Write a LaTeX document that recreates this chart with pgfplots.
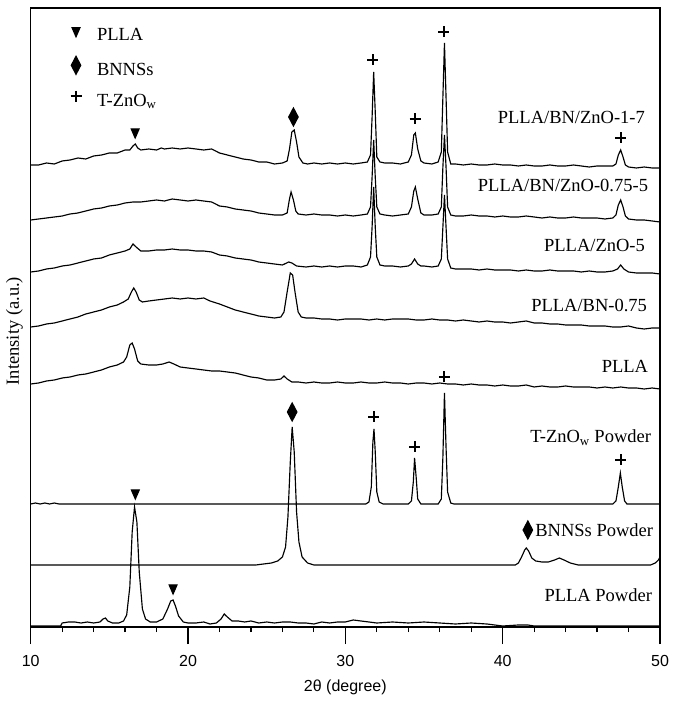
\documentclass[border=0pt]{standalone}
\usepackage{pgfplots}
\pgfplotsset{compat=1.18}
\usepackage{fontspec}
\setmainfont{Liberation Serif}
\newfontfamily\arialfont{Liberation Sans}
\newcommand\lblfont{\fontsize{18.5}{20}\selectfont}
\begin{document}
\begin{tikzpicture}
\begin{axis}[
  scale only axis, width=629.3pt, height=619pt,
  xmin=10, xmax=50, ymin=0, ymax=619,
  xtick={10,20,30,40,50}, minor x tick num=4,
  ytick=\empty, xtick pos=left, tick align=outside,
  major tick length=17pt, minor tick length=5pt,
  axis line style={line width=1.2pt},
  every tick/.style={black, line width=1.2pt},
  /pgf/number format/assume math mode=true,
  xticklabel style={font=\arialfont\fontsize{16}{16}\selectfont, yshift=-8pt},
  xlabel={2θ (degree)},
  every axis x label/.style={at={(axis description cs:0.5,0)}, yshift=-60pt, anchor=center, font=\arialfont\fontsize{16}{16}\selectfont},
  ylabel={Intensity (a.u.)},
  every axis y label/.style={at={(axis description cs:0,0.478)}, xshift=-16.2pt, anchor=center, rotate=90, font=\lblfont},
  legend style={draw=none, fill=none, at={(axis description cs:0.0585,0.968)}, anchor=north west, font=\lblfont, row sep=11.5pt, inner sep=0pt, outer sep=0pt,
    nodes={inner sep=0pt, text height=13pt, text depth=4pt}},
  legend cell align=left,
  legend image code/.code={\path[draw=none] (0pt,0pt) -- (29.5pt,0pt); \draw[#1] plot coordinates {(8.5pt,5.5pt)};},
  every axis plot/.append style={line width=1.15pt, black},
]
% legend / peak markers
\addplot[only marks, mark=triangle*, mark size=6pt, mark options={rotate=180, xscale=0.75, fill=black}]
  coordinates {(16.64,495) (16.65,134) (19.05,39)};
\addlegendentry{PLLA}
\addplot[only marks, mark=diamond*, mark size=9pt, mark options={xscale=0.7, fill=black}]
  coordinates {(26.7,510) (26.62,215) (41.6,97)};
\addlegendentry{BNNSs}
\addplot[only marks, mark=+, mark size=5.5pt, mark options={line width=2pt}]
  coordinates {(31.75,567) (34.43,508) (36.25,595) (47.52,489) (31.82,210) (34.4,180) (36.3,250) (47.5,167)};
\addlegendentry{T-ZnO\textsubscript{w}}
% Trace 1: PLLA/BN/ZnO-1-7
\addplot[forget plot] coordinates {
(10.0,462) (10.5,462) (11.0,464) (11.5,463) (12.0,466) (12.5,467) (13.0,469) (13.5,468) (14.0,471) (14.5,472) (15.0,474) (15.5,474) (16.0,477) (16.3,477) (16.5,481) (16.65,483) (16.8,479) (17.0,477) (17.5,478) (18.0,477) (18.3,479) (18.5,478) (19.0,479) (19.5,478) (20.0,479) (20.5,478) (21.0,477) (21.5,478) (22.0,474) (22.5,472) (23.0,470) (23.5,468) (24.0,467) (24.5,465) (25.0,465) (25.5,463) (26.0,464) (26.3,466) (26.45,478) (26.6,495) (26.75,497) (26.9,485) (27.05,470) (27.3,464) (27.6,463) (28.0,464) (28.5,463) (29.0,464) (29.5,463) (30.0,464) (30.5,463) (31.0,464) (31.4,465) (31.6,472) (31.7,510) (31.8,555) (31.9,515) (32.0,470) (32.2,465) (32.5,464) (33.0,464) (33.5,463) (34.0,465) (34.2,472) (34.35,492) (34.45,494) (34.6,478) (34.8,466) (35.0,464) (35.5,463) (35.9,465) (36.1,475) (36.2,530) (36.3,584) (36.4,530) (36.5,475) (36.7,463) (37.0,463) (37.5,462) (38.0,463) (38.5,462) (39.0,462) (39.5,463) (40.0,462) (40.5,462) (41.0,461) (41.5,462) (42.0,461) (42.5,461) (43.0,462) (43.5,461) (44.0,461) (44.5,462) (45.0,461) (45.5,460) (46.0,461) (46.5,461) (47.0,461) (47.2,463) (47.35,472) (47.5,477) (47.65,470) (47.8,462) (48.0,460) (48.5,459) (49.0,460) (49.5,459) (50.0,459)};
% Trace 2: PLLA/BN/ZnO-0.75-5
\addplot[forget plot] coordinates {
(10.0,407) (10.5,408) (11.0,409) (11.5,410) (12.0,411) (12.5,413) (13.0,414) (13.5,416) (14.0,418) (14.5,419) (15.0,421) (15.5,422) (16.0,424) (16.5,425) (17.0,425) (17.5,426) (18.0,427) (18.5,426) (19.0,428) (19.5,427) (20.0,426) (20.5,427) (21.0,426) (21.5,425) (22.0,421) (22.5,420) (23.0,418) (23.5,417) (24.0,416) (24.5,414) (25.0,413) (25.5,412) (26.0,412) (26.3,414) (26.45,428) (26.55,435) (26.7,427) (26.85,416) (27.0,413) (27.5,412) (28.0,413) (28.5,412) (29.0,412) (29.5,411) (30.0,412) (30.5,411) (31.0,412) (31.4,413) (31.6,420) (31.7,450) (31.8,487) (31.9,450) (32.0,420) (32.2,413) (32.5,412) (33.0,411) (33.5,412) (34.0,413) (34.2,420) (34.35,436) (34.45,440) (34.6,428) (34.8,414) (35.0,412) (35.5,412) (35.9,413) (36.1,420) (36.2,460) (36.3,492) (36.4,460) (36.5,420) (36.7,412) (37.0,411) (37.5,411) (38.0,412) (38.5,411) (39.0,411) (39.5,410) (40.0,411) (40.5,410) (41.0,410) (41.5,411) (42.0,410) (42.5,409) (43.0,410) (43.5,409) (44.0,409) (44.5,410) (45.0,409) (45.5,409) (46.0,409) (46.5,408) (47.0,409) (47.2,412) (47.35,422) (47.5,427) (47.65,420) (47.8,411) (48.0,408) (48.5,407) (49.0,407) (49.5,406) (50.0,405)};
% Trace 3: PLLA/ZnO-5
\addplot[forget plot] coordinates {
(10.0,355) (10.5,356) (11.0,358) (11.5,359) (12.0,361) (12.5,362) (13.0,364) (13.5,366) (14.0,368) (14.5,369) (15.0,372) (15.5,374) (16.0,376) (16.3,378) (16.5,383) (16.7,380) (17.0,376) (17.5,376) (18.0,377) (18.5,377) (19.0,378) (19.5,377) (20.0,377) (20.5,376) (21.0,376) (21.5,375) (22.0,372) (22.5,371) (23.0,369) (23.5,368) (24.0,367) (24.5,365) (25.0,364) (25.5,363) (26.0,362) (26.4,365) (26.6,364) (26.9,361) (27.5,360) (28.0,361) (28.5,360) (29.0,361) (29.5,360) (30.0,361) (30.5,361) (31.0,360) (31.4,362) (31.6,370) (31.7,400) (31.8,440) (31.9,400) (32.0,370) (32.2,362) (32.5,361) (33.0,361) (33.5,360) (34.0,361) (34.2,363) (34.4,368) (34.6,363) (34.8,361) (35.0,361) (35.5,360) (35.9,361) (36.1,368) (36.2,400) (36.3,432) (36.4,400) (36.5,368) (36.7,359) (37.0,358) (37.5,358) (38.0,358) (38.5,357) (39.0,358) (39.5,357) (40.0,357) (40.5,357) (41.0,356) (41.5,357) (42.0,356) (42.5,356) (43.0,357) (43.5,356) (44.0,356) (44.5,356) (45.0,355) (45.5,356) (46.0,355) (46.5,355) (47.0,356) (47.3,358) (47.5,362) (47.7,358) (48.0,355) (48.5,354) (49.0,354) (49.5,354) (50.0,353)};
% Trace 4: PLLA/BN-0.75
\addplot[forget plot] coordinates {
(10.0,300) (10.5,301) (11.0,303) (11.5,304) (12.0,306) (12.5,308) (13.0,310) (13.5,313) (14.0,315) (14.5,317) (15.0,320) (15.5,322) (15.9,325) (16.2,328) (16.4,335) (16.55,339) (16.7,335) (16.9,327) (17.1,325) (17.5,326) (18.0,327) (18.5,328) (19.0,329) (19.5,328) (20.0,329) (20.5,328) (21.0,329) (21.4,326) (22.0,323) (22.5,320) (23.0,317) (23.5,315) (24.0,313) (24.5,311) (25.0,310) (25.5,309) (25.9,310) (26.1,315) (26.3,335) (26.5,354) (26.65,352) (26.8,335) (27.0,315) (27.2,310) (27.5,309) (28.0,309) (28.5,308) (29.0,308) (29.5,307) (30.0,308) (30.5,308) (31.0,308) (31.5,307) (32.0,308) (32.5,307) (33.0,308) (33.5,308) (34.0,308) (34.5,307) (35.0,307) (35.5,308) (36.0,307) (36.5,307) (37.0,306) (37.5,307) (38.0,306) (38.5,305) (39.0,306) (39.5,305) (40.0,305) (40.5,304) (41.0,305) (41.5,306) (42.0,304) (42.5,304) (43.0,303) (43.5,303) (44.0,302) (44.5,302) (45.0,302) (45.5,301) (46.0,301) (46.5,301) (47.0,300) (47.5,300) (48.0,301) (48.5,299) (49.0,298) (49.5,299) (50.0,299)};
% Trace 5: PLLA
\addplot[forget plot] coordinates {
(10.0,243) (10.5,244) (11.0,246) (11.5,247) (12.0,249) (12.5,250) (13.0,252) (13.5,253) (14.0,255) (14.5,257) (15.0,260) (15.5,262) (15.9,265) (16.1,270) (16.3,282) (16.45,284) (16.6,278) (16.8,266) (17.0,263) (17.5,262) (18.0,262) (18.4,263) (18.8,265) (19.1,263) (19.5,260) (20.0,259) (20.5,258) (21.0,257) (21.5,256) (22.0,256) (22.5,255) (23.0,254) (23.5,252) (24.0,250) (24.5,249) (25.0,247) (25.5,247) (25.9,248) (26.1,251) (26.3,248) (26.6,245) (27.0,245) (27.5,244) (28.0,245) (28.5,244) (29.0,244) (29.5,245) (30.0,244) (30.5,244) (31.0,245) (31.5,244) (32.0,244) (32.5,245) (33.0,244) (33.5,244) (34.0,243) (34.5,244) (35.0,244) (35.5,243) (36.0,244) (36.5,243) (37.0,243) (37.5,242) (38.0,243) (38.5,242) (39.0,242) (39.5,241) (40.0,242) (40.5,241) (41.0,241) (41.5,242) (42.0,240) (42.5,241) (43.0,240) (43.5,240) (44.0,241) (44.5,240) (45.0,240) (45.5,240) (46.0,239) (46.5,240) (47.0,239) (47.5,240) (48.0,239) (48.5,239) (49.0,238) (49.5,239) (50.0,238)};
% Trace 6: T-ZnOw Powder
\addplot[forget plot] coordinates {
(10.0,123) (10.3,124) (10.6,123) (10.9,124) (11.2,123) (11.5,124) (11.8,123) (12.0,123) (31.3,123) (31.5,125) (31.65,140) (31.75,185) (31.82,198) (31.9,175) (32.0,135) (32.15,125) (32.4,123) (34.0,123) (34.2,126) (34.32,145) (34.4,169) (34.5,150) (34.6,128) (34.8,123) (35.9,123) (36.1,128) (36.2,170) (36.3,234) (36.4,180) (36.5,135) (36.7,124) (36.9,123) (47.0,123) (47.2,126) (47.35,140) (47.48,154) (47.6,140) (47.75,126) (47.9,123) (50.0,123)};
% Trace 7: BNNSs Powder
\addplot[forget plot] coordinates {
(10.0,62) (24.3,62) (24.8,63) (25.3,64) (25.7,66) (26.0,70) (26.2,80) (26.35,110) (26.5,165) (26.62,200) (26.75,175) (26.9,115) (27.05,85) (27.25,70) (27.6,64) (28.0,62) (40.8,62) (41.0,64) (41.2,70) (41.4,77) (41.5,79) (41.65,76) (41.85,69) (42.1,66) (42.5,65) (42.9,65) (43.3,67) (43.6,69) (43.9,67) (44.3,64) (44.8,62) (49.4,62) (49.7,64) (49.9,67) (50.0,70)};
% Trace 8: PLLA Powder
\addplot[forget plot] coordinates {
(10.0,1) (11.9,1) (12.0,4) (12.4,5) (12.8,5) (13.2,4) (13.6,5) (14.0,4) (14.4,5) (14.6,8) (14.75,9) (14.9,6) (15.2,4) (15.6,4) (15.9,6) (16.1,12) (16.3,40) (16.45,95) (16.6,120) (16.75,105) (16.9,55) (17.1,18) (17.3,8) (17.6,5) (18.0,5) (18.4,8) (18.7,18) (18.9,26) (19.05,27) (19.2,21) (19.4,11) (19.7,5) (20.0,4) (20.5,4) (21.0,5) (21.4,3) (21.8,4) (22.1,8) (22.3,13) (22.5,10) (22.8,6) (23.2,6) (23.6,5) (24.0,6) (24.5,4) (25.0,5) (25.5,4) (26.0,5) (26.5,5) (27.0,4) (27.5,4) (28.0,3) (28.5,5) (29.0,4) (29.5,5) (30.0,5) (30.5,7) (31.0,6) (31.5,5) (32.0,4) (33.0,5) (34.0,4) (35.0,5) (36.0,4) (37.0,3) (38.0,4) (39.0,3) (39.5,2) (40.0,1) (41.0,2) (41.6,2) (42.0,1) (50.0,1)};
% trace labels
\begin{scope}[every node/.style={anchor=base east, font=\lblfont, inner sep=0pt}]
\node at (axis cs:49.05,503) {PLLA/BN/ZnO-1-7};
\node at (axis cs:49.25,435) {PLLA/BN/ZnO-0.75-5};
\node at (axis cs:49.05,375) {PLLA/ZnO-5};
\node at (axis cs:49.18,315) {PLLA/BN-0.75};
\node at (axis cs:49.25,254) {PLLA};
\node at (axis cs:49.44,184) {T-ZnO\textsubscript{w} Powder};
\node at (axis cs:49.57,90) {BNNSs Powder};
\node at (axis cs:49.5,25) {PLLA Powder};
\end{scope}
\end{axis}
\pgfresetboundingbox
\path[use as bounding box] ([shift={(-30.7pt,-77pt)}]current axis.south west) rectangle ++(675pt,704pt);
\end{tikzpicture}
\end{document}
